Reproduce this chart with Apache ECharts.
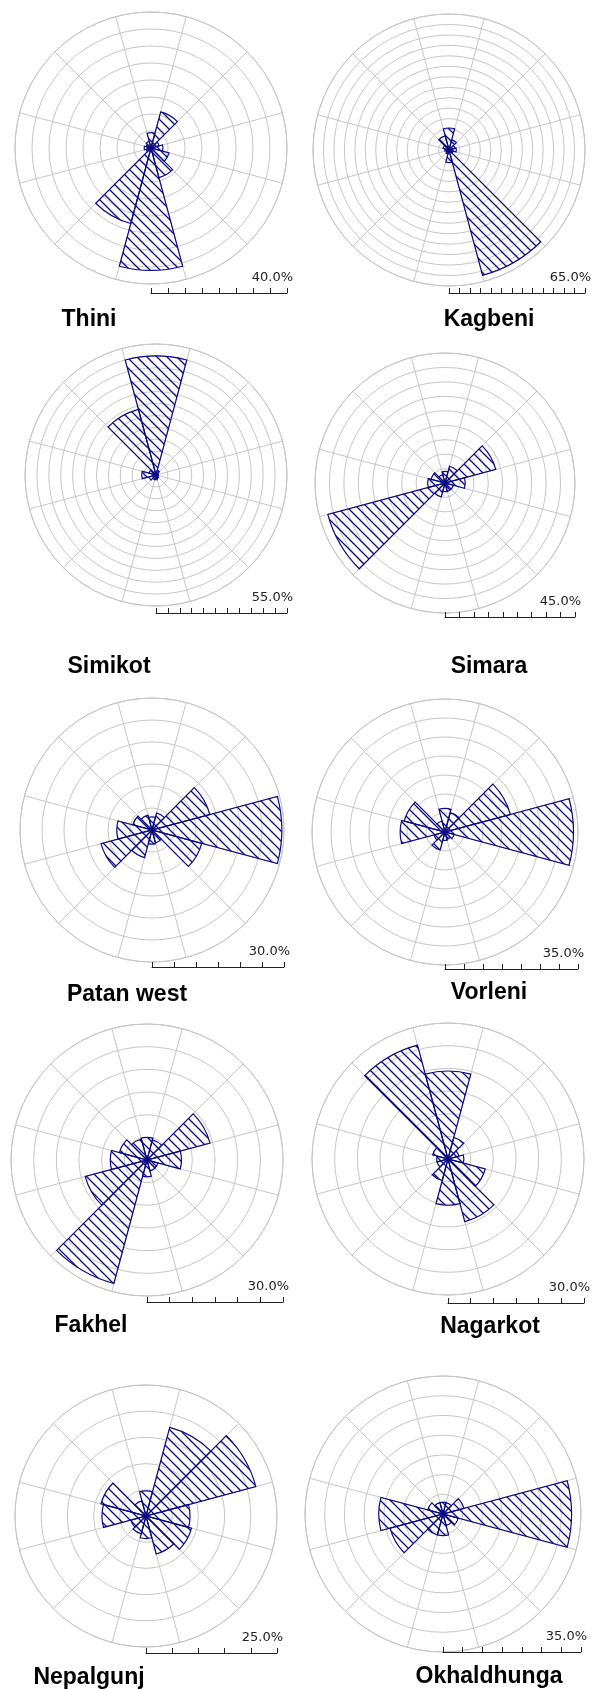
<!DOCTYPE html>
<html>
<head>
<meta charset="utf-8">
<script src="https://cdn.jsdelivr.net/npm/echarts@6/dist/echarts.min.js"></script>
<style>
  html, body { margin: 0; padding: 0; background: #fff; }
  #main { width: 604px; height: 1689px; }
</style>
</head>
<body>
<div id="main"></div>
<script>
// directions, clockwise from north, 30 degree sectors
var directions = ['N', 'NNE', 'ENE', 'E', 'ESE', 'SSE', 'S', 'SSW', 'WSW', 'W', 'WNW', 'NNW'];

// station names and the scale maximum (%) of each rose
var stations = ['Thini', 'Kagbeni', 'Simikot', 'Simara', 'Patan west', 'Vorleni', 'Fakhel', 'Nagarkot', 'Nepalgunj', 'Okhaldhunga'];
var scaleMax = [40, 65, 55, 45, 30, 35, 30, 30, 25, 35];

// frequency (%) per direction
var thini       = [4.5, 11, 2.5, 3.5, 5.5, 9, 36, 23, 1.5, 2, 1.5, 2];
var kagbeni     = [10.5, 5, 3, 3.5, 2, 62, 6, 2, 1.5, 2, 3, 7];
var simikot     = [50, 2, 1, 1, 1, 1.5, 2, 2, 3, 6, 3, 28.5];
var simara      = [4, 6, 18.2, 7, 3, 3, 3, 5, 42, 6, 5, 3];
var patanWest   = [3, 4, 13.6, 29.5, 11.7, 3, 3.2, 6.5, 12, 8, 4.5, 3.5];
var vorleni     = [6.2, 5.3, 17.8, 33.8, 2.5, 2, 2.2, 4.9, 3, 11.8, 11.1, 3];
var fakhel      = [5, 4.6, 14.4, 7.6, 2.5, 2.5, 3.7, 28.2, 14.1, 8.1, 6.3, 4.8];
var nagarkot    = [19.4, 4.9, 2.5, 3.5, 8.5, 14.3, 10.2, 4.9, 2.5, 2.5, 3.5, 26];
var nepalgunj   = [4.8, 17.5, 21.7, 8.4, 9, 7.5, 4.3, 3.5, 3, 8.4, 8.9, 3];
var okhaldhunga = [3, 3, 5.5, 32.6, 4, 3, 5.5, 5.5, 13.9, 16.3, 4, 3];

var values = [thini, kagbeni, simikot, simara, patanWest, vorleni, fakhel, nagarkot, nepalgunj, okhaldhunga];

// layout of each panel: rose centre, radius, scale bar y, title centre
var layout = [
  {cx: 151, cy: 148,  r: 136, barY: 293,  tx: 89,  ty: 320},
  {cx: 449, cy: 150,  r: 136, barY: 293,  tx: 489, ty: 320},
  {cx: 156, cy: 475,  r: 131, barY: 613,  tx: 109, ty: 667},
  {cx: 445, cy: 483,  r: 130, barY: 617,  tx: 489, ty: 667},
  {cx: 152, cy: 830,  r: 132, barY: 967,  tx: 127, ty: 995},
  {cx: 445, cy: 832,  r: 133, barY: 969,  tx: 489, ty: 993},
  {cx: 147, cy: 1160, r: 136, barY: 1302, tx: 91,  ty: 1326},
  {cx: 448, cy: 1159, r: 136, barY: 1303, tx: 490, ty: 1327},
  {cx: 146, cy: 1516, r: 131, barY: 1653, tx: 89,  ty: 1678},
  {cx: 443, cy: 1514, r: 138, barY: 1652, tx: 489, ty: 1677}
];

var navy = '#0a0a80';
var gridGray = '#c6c6c6';

// diagonal hatching used as fill of the sectors
function hatch() {
  var s = 10;
  var c = document.createElement('canvas');
  c.width = s; c.height = s;
  var ctx = c.getContext('2d');
  ctx.strokeStyle = navy;
  ctx.lineWidth = 1.3;
  ctx.beginPath();
  ctx.moveTo(-1, -1); ctx.lineTo(s + 1, s + 1);
  ctx.moveTo(-1, -s - 1); ctx.lineTo(s + 1, 1);
  ctx.moveTo(-1, s - 1); ctx.lineTo(s + 1, 2 * s + 1);
  ctx.stroke();
  return c;
}
var pattern = {image: hatch(), repeat: 'repeat'};

var chart = echarts.init(document.getElementById('main'), null, {renderer: 'canvas'});

var polar = [], angleAxis = [], radiusAxis = [], grid = [], xAxis = [], yAxis = [], series = [], graphic = [];

stations.forEach(function (name, i) {
  var L = layout[i];
  polar.push({center: [L.cx, L.cy], radius: L.r});
  angleAxis.push({
    polarIndex: i,
    type: 'category',
    data: directions,
    startAngle: 105,
    clockwise: true,
    boundaryGap: true,
    axisLine: {show: true, lineStyle: {color: gridGray, width: 1}},
    axisTick: {show: false},
    axisLabel: {show: false},
    splitLine: {show: true, interval: 0, lineStyle: {color: gridGray, width: 1}}
  });
  radiusAxis.push({
    polarIndex: i,
    type: 'value',
    min: 0,
    max: scaleMax[i],
    interval: 5,
    axisLine: {show: false},
    axisTick: {show: false},
    axisLabel: {show: false},
    splitLine: {show: true, lineStyle: {color: gridGray, width: 1}}
  });
  series.push({
    type: 'bar',
    coordinateSystem: 'polar',
    polarIndex: i,
    name: name,
    data: values[i],
    barCategoryGap: '0%',
    itemStyle: {color: pattern, borderColor: navy, borderWidth: 1.2}
  });

  // scale bar below each rose
  grid.push({left: L.cx, top: L.barY - 20, width: L.r, height: 20});
  xAxis.push({
    gridIndex: i,
    type: 'value',
    min: 0,
    max: scaleMax[i],
    interval: 5,
    axisLine: {show: true, lineStyle: {color: '#222', width: 1}},
    axisTick: {show: true, inside: true, length: 5, lineStyle: {color: '#222'}},
    axisLabel: {show: false},
    splitLine: {show: false}
  });
  yAxis.push({gridIndex: i, type: 'value', show: false});

  graphic.push({
    type: 'text',
    x: L.cx + L.r + 6,
    y: L.barY - 15.5,
    style: {
      text: scaleMax[i].toFixed(1) + '%',
      font: '13px "DejaVu Sans"',
      fill: '#222',
      textAlign: 'right',
      textVerticalAlign: 'middle'
    }
  });
  graphic.push({
    type: 'text',
    x: L.tx,
    y: L.ty,
    style: {
      text: name,
      font: 'bold 23px "Liberation Sans"',
      fill: '#000',
      textAlign: 'center',
      textVerticalAlign: 'middle'
    }
  });
});

chart.setOption({
  animation: false,
  backgroundColor: '#fff',
  polar: polar,
  angleAxis: angleAxis,
  radiusAxis: radiusAxis,
  grid: grid,
  xAxis: xAxis,
  yAxis: yAxis,
  series: series,
  graphic: graphic
});
</script>
</body>
</html>
